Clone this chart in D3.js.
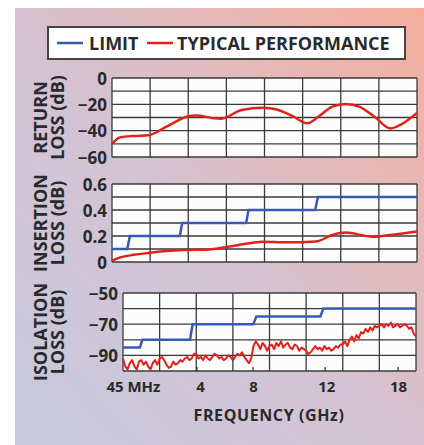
<!DOCTYPE html>
<html>
<head>
<meta charset="utf-8">
<script src="https://cdn.jsdelivr.net/npm/d3@7"></script>
<style>
  html, body { margin: 0; padding: 0; background: #fff; }
  svg text { font-family: "Open Sans", "DejaVu Sans", sans-serif; font-weight: 700; fill: #2a2a2a; }
</style>
</head>
<body>
<div class="chart"></div>
<script>
// x positions are in grid columns (0..8), as drawn on the chart
const xTickPos = [0.27, 2.1, 3.55, 5.55, 7.51];
const xTickLabels = ["45 MHz", "4", "8", "12", "18"];
const xTickMarks = [2.02, 3.55, 5.52, 7.51];

// return loss (dB), typical
const returnX = [0, 0.22, 0.57, 0.95, 1.43, 2.0, 2.2, 2.65, 2.85, 3.4, 3.96, 4.3, 4.74, 5.13, 5.43, 5.78, 6.13, 6.48, 6.91, 7.3, 7.6, 8];
const returnY = [-50, -45, -44, -43.5, -37, -29, -28.4, -30.5, -31, -24.3, -22.5, -23.7, -29, -34.4, -29, -21.7, -19.7, -21.7, -30, -38.3, -35, -26.5];

// insertion loss (dB)
const insLimitX = [0, 0.4, 0.47, 1.78, 1.84, 3.52, 3.58, 5.33, 5.4, 8];
const insLimitY = [0.1, 0.1, 0.2, 0.2, 0.3, 0.3, 0.4, 0.4, 0.5, 0.5];
const insTypX = [0, 0.22, 0.57, 1.0, 1.87, 2.57, 3.17, 3.96, 4.57, 5.35, 5.78, 6.13, 6.83, 7.35, 8];
const insTypY = [0.01, 0.036, 0.055, 0.072, 0.092, 0.097, 0.123, 0.156, 0.151, 0.158, 0.208, 0.226, 0.195, 0.21, 0.235];

// isolation loss (dB)
const isoLimitX = [0, 0.46, 0.53, 1.83, 1.9, 3.56, 3.64, 5.39, 5.47, 8];
const isoLimitY = [-85, -85, -80, -80, -70, -70, -65, -65, -60, -60];
// typical, one reading every 1/16 column
const isoTyp = [
  -92, -97, -99, -95, -93, -97, -99, -94, -93, -96, -94, -97, -99, -95, -93, -96,
  -92, -91, -93, -96, -98, -97, -94, -96, -95, -93, -94, -92, -91, -93, -92, -89,
  -89, -92, -91, -93, -90, -92, -93, -91, -89, -90, -92, -91, -93, -92, -90, -91,
  -93, -91, -89, -90, -88, -91, -93, -95, -92, -84, -81, -83, -86, -82, -84, -87,
  -84, -83, -86, -82, -84, -81, -85, -83, -82, -85, -86, -83, -84, -87, -85, -86,
  -87, -89, -88, -86, -84, -86, -85, -87, -84, -86, -85, -87, -86, -84, -85, -83,
  -83, -81, -84, -80, -78, -81, -77, -79, -75, -76, -73, -75, -72, -74, -71, -72,
  -71, -70, -72, -70, -71, -69, -72, -71, -70, -72, -71, -70, -71, -73, -72, -76,
  -78
];

const W = 424, H = 445;
const BLUE = "#3859b3", RED = "#e3211c", GRID = "#3a3a3a";

const svg = d3.select(".chart").append("svg")
  .attr("width", W).attr("height", H);

// background wash
const defs = svg.append("defs");
const grad = defs.append("linearGradient").attr("id", "bg")
  .attr("x1", "0").attr("y1", "1").attr("x2", "1").attr("y2", "0");
grad.append("stop").attr("offset", "0").attr("stop-color", "#c7c9dd");
grad.append("stop").attr("offset", "0.45").attr("stop-color", "#d3c3d4");
grad.append("stop").attr("offset", "1").attr("stop-color", "#f6ae9c");
svg.append("rect").attr("x", 15).attr("y", 8).attr("width", W - 15).attr("height", H - 8)
  .attr("fill", "url(#bg)");

// legend
const legend = svg.append("g");
legend.append("rect").attr("x", 48).attr("y", 27).attr("width", 357).attr("height", 32)
  .attr("fill", "#fff").attr("stroke", "#444").attr("stroke-width", 2);
legend.append("line").attr("x1", 57).attr("x2", 83).attr("y1", 43).attr("y2", 43)
  .attr("stroke", BLUE).attr("stroke-width", 2.5);
legend.append("text").attr("x", 89).attr("y", 49.5).attr("font-size", 18).text("LIMIT");
legend.append("line").attr("x1", 147).attr("x2", 173).attr("y1", 43).attr("y2", 43)
  .attr("stroke", RED).attr("stroke-width", 2.5);
legend.append("text").attr("x", 177).attr("y", 49.5).attr("font-size", 18).text("TYPICAL PERFORMANCE");

function panel(o) {
  const x = d3.scaleLinear().domain([0, 8]).range([o.left, o.right]);
  const y = d3.scaleLinear().domain(o.domain).range([o.bottom, o.top]);
  const g = svg.append("g");

  g.append("rect").attr("x", o.left).attr("y", o.top)
    .attr("width", o.right - o.left).attr("height", o.bottom - o.top)
    .attr("fill", "#fdfcfd");

  // grid
  g.selectAll(".vg").data(d3.range(0, 9)).enter().append("line")
    .attr("x1", d => x(d)).attr("x2", d => x(d))
    .attr("y1", o.top).attr("y2", o.bottom)
    .attr("stroke", GRID).attr("stroke-width", 1.3);
  g.selectAll(".hg").data(o.grid).enter().append("line")
    .attr("x1", o.left).attr("x2", o.right)
    .attr("y1", d => y(d)).attr("y2", d => y(d))
    .attr("stroke", GRID).attr("stroke-width", 1.3);

  // y ticks
  const yAxis = d3.axisLeft(y).tickValues(o.ticks).tickSize(0).tickPadding(5)
    .tickFormat(o.fmt);
  const ax = g.append("g").attr("transform", `translate(${o.left},0)`).call(yAxis);
  ax.select(".domain").remove();
  ax.selectAll("text").attr("font-size", 17).attr("font-family", null).attr("fill", "#2a2a2a")
    .attr("dy", "0.36em");

  // axis title, two rotated lines
  const cy = (o.top + o.bottom) / 2;
  g.append("text").attr("transform", `translate(47,${cy}) rotate(-90)`)
    .attr("text-anchor", "middle").attr("font-size", 18).text(o.title[0]);
  g.append("text").attr("transform", `translate(64,${cy}) rotate(-90)`)
    .attr("text-anchor", "middle").attr("font-size", 18).text(o.title[1]);

  return { x, y, g };
}

const fmtNum = d => d < 0 ? "\u2212" + Math.abs(d) : String(d);

// return loss
const p1 = panel({ left: 112, right: 417, top: 78, bottom: 157, domain: [-60, 0],
  grid: d3.range(-60, 1, 10), ticks: [0, -20, -40, -60], fmt: fmtNum,
  title: ["RETURN", "LOSS (dB)"] });
p1.g.append("path")
  .datum(d3.zip(returnX, returnY))
  .attr("fill", "none").attr("stroke", RED).attr("stroke-width", 2.5)
  .attr("d", d3.line().x(d => p1.x(d[0])).y(d => p1.y(d[1])).curve(d3.curveMonotoneX));

// insertion loss
const p2 = panel({ left: 112, right: 417, top: 184, bottom: 262, domain: [0, 0.6],
  grid: d3.range(0, 0.61, 0.1), ticks: [0, 0.2, 0.4, 0.6], fmt: d => d === 0 ? "0" : d.toFixed(1),
  title: ["INSERTION", "LOSS (dB)"] });
p2.g.append("path")
  .datum(d3.zip(insLimitX, insLimitY))
  .attr("fill", "none").attr("stroke", BLUE).attr("stroke-width", 2.5)
  .attr("d", d3.line().x(d => p2.x(d[0])).y(d => p2.y(d[1])));
p2.g.append("path")
  .datum(d3.zip(insTypX, insTypY))
  .attr("fill", "none").attr("stroke", RED).attr("stroke-width", 2.5)
  .attr("d", d3.line().x(d => p2.x(d[0])).y(d => p2.y(d[1])).curve(d3.curveMonotoneX));

// isolation loss
const p3 = panel({ left: 123, right: 416, top: 293, bottom: 371, domain: [-100, -50],
  grid: d3.range(-100, -49, 10), ticks: [-50, -70, -90], fmt: fmtNum,
  title: ["ISOLATION", "LOSS (dB)"] });
p3.g.append("path")
  .datum(d3.zip(isoLimitX, isoLimitY))
  .attr("fill", "none").attr("stroke", BLUE).attr("stroke-width", 2.5)
  .attr("d", d3.line().x(d => p3.x(d[0])).y(d => p3.y(d[1])));
p3.g.append("path")
  .datum(isoTyp)
  .attr("fill", "none").attr("stroke", RED).attr("stroke-width", 2)
  .attr("stroke-linejoin", "round")
  .attr("d", d3.line().x((d, i) => p3.x(i / 16)).y(d => p3.y(d)));

// small inside tick marks and x labels
p3.g.selectAll(".tm").data(xTickMarks).enter().append("line")
  .attr("x1", d => p3.x(d)).attr("x2", d => p3.x(d))
  .attr("y1", 371).attr("y2", 367)
  .attr("stroke", GRID).attr("stroke-width", 1.3);

const xAxis = d3.axisBottom(p3.x).tickValues(xTickPos).tickSize(0).tickPadding(10)
  .tickFormat((d, i) => xTickLabels[i]);
const xa = svg.append("g").attr("transform", "translate(0,371)").call(xAxis);
xa.select(".domain").remove();
xa.selectAll("text").attr("font-size", 15).attr("font-family", null).attr("fill", "#2a2a2a");

svg.append("text").attr("x", 269).attr("y", 421).attr("text-anchor", "middle")
  .attr("font-size", 16).attr("letter-spacing", 0.6).text("FREQUENCY (GHz)");
</script>
</body>
</html>
